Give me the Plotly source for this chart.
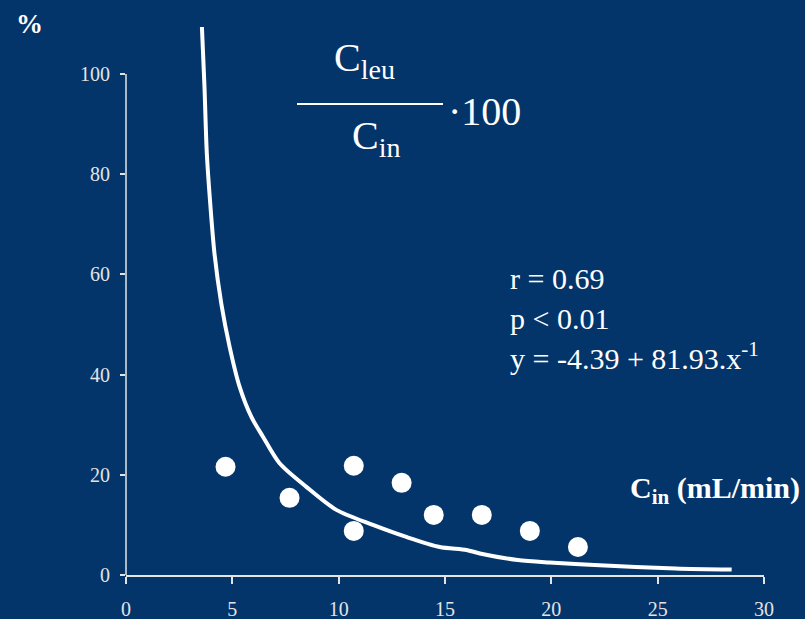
import plotly.graph_objects as go

# Data
pts_x = [4.68, 7.69, 10.71, 10.71, 12.96, 14.47, 16.73, 18.99, 21.25]
pts_y = [21.6, 15.4, 21.8, 8.8, 18.4, 12.0, 12.0, 8.8, 5.6]

curve_x = [3.57, 3.69, 3.80, 3.96, 4.16, 4.48, 4.87, 5.34, 5.89, 6.44, 7.22, 8.48,
           9.89, 11.61, 13.18, 14.75, 16.01, 16.64, 18.42, 19.91, 22.03, 25.84, 28.48]
curve_y = [109.4, 97.5, 84.2, 74.2, 64.2, 54.2, 45.6, 37.6, 31.6, 27.6, 22.3, 17.6,
           13.0, 10.0, 7.6, 5.6, 5.0, 4.3, 3.0, 2.5, 2.0, 1.3, 1.1]

x_ticks = [0, 5, 10, 15, 20, 25, 30]
y_ticks = [0, 20, 40, 60, 80, 100]

BG = "#03356b"
FG = "#ffffff"
TICK = "#e4e4e4"
SERIF = "Liberation Serif"

W, H = 805, 619
L, R, T, B = 126, 41, 24, 44
PW, PH = W - L - R, H - T - B

def px(x):
    return (x - L) / PW

def py(y):
    return (H - B - y) / PH

fig = go.Figure()
fig.add_trace(go.Scatter(x=curve_x, y=curve_y, mode="lines",
                         line=dict(color=FG, width=4, shape="spline", smoothing=0.8),
                         hoverinfo="skip", showlegend=False))
fig.add_trace(go.Scatter(x=pts_x, y=pts_y, mode="markers",
                         marker=dict(color=FG, size=20, line=dict(width=0)),
                         showlegend=False))

anns = [
    dict(x=px(29.5), y=py(24), text="<b>%</b>", font=dict(size=27)),
    dict(x=px(364), y=py(60), text="C<sub>leu</sub>", font=dict(size=40)),
    dict(x=px(376), y=py(138), text="C<sub>in</sub>", font=dict(size=40)),
    dict(x=px(446), y=py(112), text="·100", font=dict(size=40), xanchor="left"),
    dict(x=px(508), y=py(278), text="r = 0.69", font=dict(size=30), xanchor="left"),
    dict(x=px(508), y=py(318), text="p &lt; 0.01", font=dict(size=30), xanchor="left"),
    dict(x=px(508), y=py(356), text="y = -4.39 + 81.93.x<sup>-1</sup>", font=dict(size=30), xanchor="left"),
    dict(x=px(802), y=py(490), text="<b>C<sub>in</sub> (mL/min)</b>", font=dict(size=30), xanchor="right"),
]
for a in anns:
    a.setdefault("xanchor", "center")
    a["xref"] = "paper"
    a["yref"] = "paper"
    a["yanchor"] = "middle"
    a["showarrow"] = False
    a["font"] = dict(family=SERIF, color=FG, **a["font"])
fig.update_layout(annotations=anns)

fig.add_shape(type="line", xref="paper", yref="paper",
              x0=px(297), x1=px(443), y0=py(104), y1=py(104),
              line=dict(color=FG, width=2))
fig.add_shape(type="line", xref="paper", yref="y",
              x0=0, x1=0, y0=0, y1=100,
              line=dict(color=TICK, width=1.5))

fig.update_xaxes(range=[0, 30], tickvals=x_ticks, ticks="outside", ticklen=7,
                 tickcolor=TICK, tickwidth=1.5, showline=True, linecolor=TICK,
                 linewidth=1.5, showgrid=False, zeroline=False, automargin=False,
                 tickfont=dict(family=SERIF, size=20, color=TICK),
                 ticklabelstandoff=8)
fig.update_yaxes(range=[0, 110], tickvals=y_ticks, ticks="outside", ticklen=5,
                 tickcolor=TICK, tickwidth=1.5, showline=False, showgrid=False,
                 zeroline=False, automargin=False,
                 tickfont=dict(family=SERIF, size=20, color=TICK),
                 ticklabelstandoff=6)

fig.update_layout(width=W, height=H, margin=dict(l=L, r=R, t=T, b=B),
                  paper_bgcolor=BG, plot_bgcolor=BG,
                  font=dict(family=SERIF, color=FG))

fig.write_html("out.html")
